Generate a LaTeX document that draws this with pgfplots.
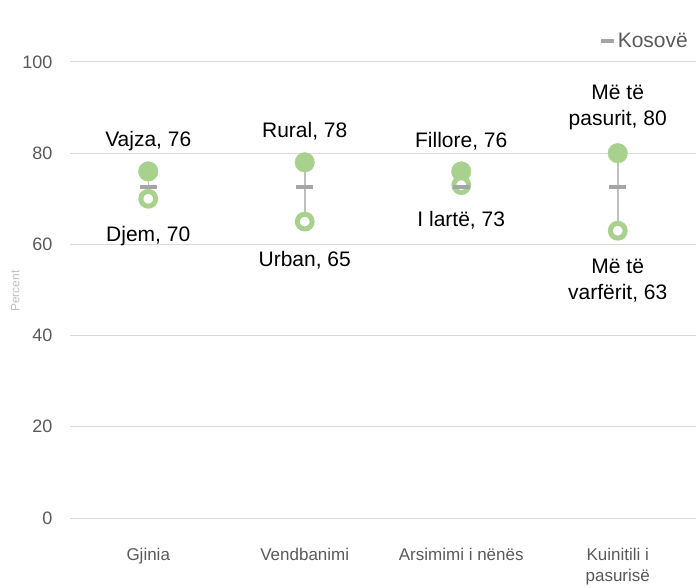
\documentclass[border=0pt]{standalone}
\usepackage{fontspec}
\setmainfont{Liberation Sans}
\usepackage{pgfplots}
\pgfplotsset{compat=1.18}
\definecolor{ptgreen}{HTML}{A9D18E}
\definecolor{rangegray}{HTML}{BFBFBF}
\definecolor{dashgray}{HTML}{A5A5A5}
\definecolor{gridgray}{HTML}{D9D9D9}
\definecolor{ticktext}{HTML}{595959}
\begin{document}
\begin{tikzpicture}
\useasboundingbox (0,0) rectangle (696pt,587pt);
\begin{axis}[
  at={(70pt,69pt)}, anchor=south west,
  scale only axis, width=626pt, height=456pt,
  xmin=-0.5, xmax=3.5, ymin=0, ymax=100,
  xtick={0,1,2,3},
  xticklabels={Gjinia,Vendbanimi,Arsimimi i nënës,{Kuinitili i\\pasurisë}},
  ytick={0,20,40,60,80,100},
  axis line style={draw=none},
  major tick length=0pt,
  ymajorgrids, grid style={gridgray, line width=1pt},
  /pgf/number format/assume math mode=true,
  yticklabel style={font=\fontsize{18}{21}\selectfont, text=ticktext, xshift=-14pt},
  xticklabel style={font=\fontsize{17}{21}\selectfont, text=ticktext, align=center, anchor=north, yshift=-27pt},
  ylabel={Percent},
  ylabel style={font=\fontsize{12}{14}\selectfont, text=rangegray, at={(ticklabel cs:0.5)}, xshift=-1pt, yshift=-4pt},
  legend style={at={(1,1)}, anchor=south east, yshift=11pt, xshift=-6pt, draw=none, fill=none,
    font=\fontsize{21}{24}\selectfont, text=ticktext, inner sep=0pt},
  legend cell align=left,
  clip=false,
]
% range lines
\addplot[rangegray, line width=1.5pt, forget plot] coordinates {(0,70) (0,76)};
\addplot[rangegray, line width=1.5pt, forget plot] coordinates {(1,65) (1,78)};
\addplot[rangegray, line width=1.5pt, forget plot] coordinates {(2,73) (2,76)};
\addplot[rangegray, line width=1.5pt, forget plot] coordinates {(3,63) (3,80)};
% high values (filled)
\addplot[ptgreen, only marks, mark=*, mark size=9.8pt, mark options={fill=ptgreen, draw=ptgreen, line width=0.4pt}, forget plot]
  coordinates {(0,76) (1,78) (2,76) (3,80)};
% low values (hollow)
\addplot[ptgreen, only marks, mark=*, mark size=7.4pt, mark options={fill=white, draw=ptgreen, line width=5pt}, forget plot]
  coordinates {(0,70) (1,65) (2,73) (3,63)};
% Kosovo average
\addplot[dashgray, only marks, mark=-, mark size=8.5pt, mark options={draw=dashgray, line width=4pt},
  legend image code/.code={\draw[dashgray, line width=4pt] (0pt,0pt) -- (13pt,0pt);}]
  coordinates {(0,72.6) (1,72.6) (2,72.6) (3,72.6)};
\addlegendentry{Kosovë}
% labels
\begin{scope}[every node/.style={font=\fontsize{21}{26}\selectfont, align=center, text=black}]
\node[anchor=south, yshift=17pt] at (axis cs:0,76) {Vajza, 76};
\node[anchor=north, yshift=-24pt] at (axis cs:0,70) {Djem, 70};
\node[anchor=south, yshift=19pt] at (axis cs:1,78) {Rural, 78};
\node[anchor=north, yshift=-26pt] at (axis cs:1,65) {Urban, 65};
\node[anchor=south, yshift=18pt] at (axis cs:2,76) {Fillore, 76};
\node[anchor=north, yshift=-23pt] at (axis cs:2,73) {I lartë, 73};
\node[anchor=south, yshift=20pt] at (axis cs:3,80) {Më të\\pasurit, 80};
\node[anchor=north, yshift=-25pt] at (axis cs:3,63) {Më të\\varfërit, 63};
\end{scope}
\end{axis}
\end{tikzpicture}
\end{document}
